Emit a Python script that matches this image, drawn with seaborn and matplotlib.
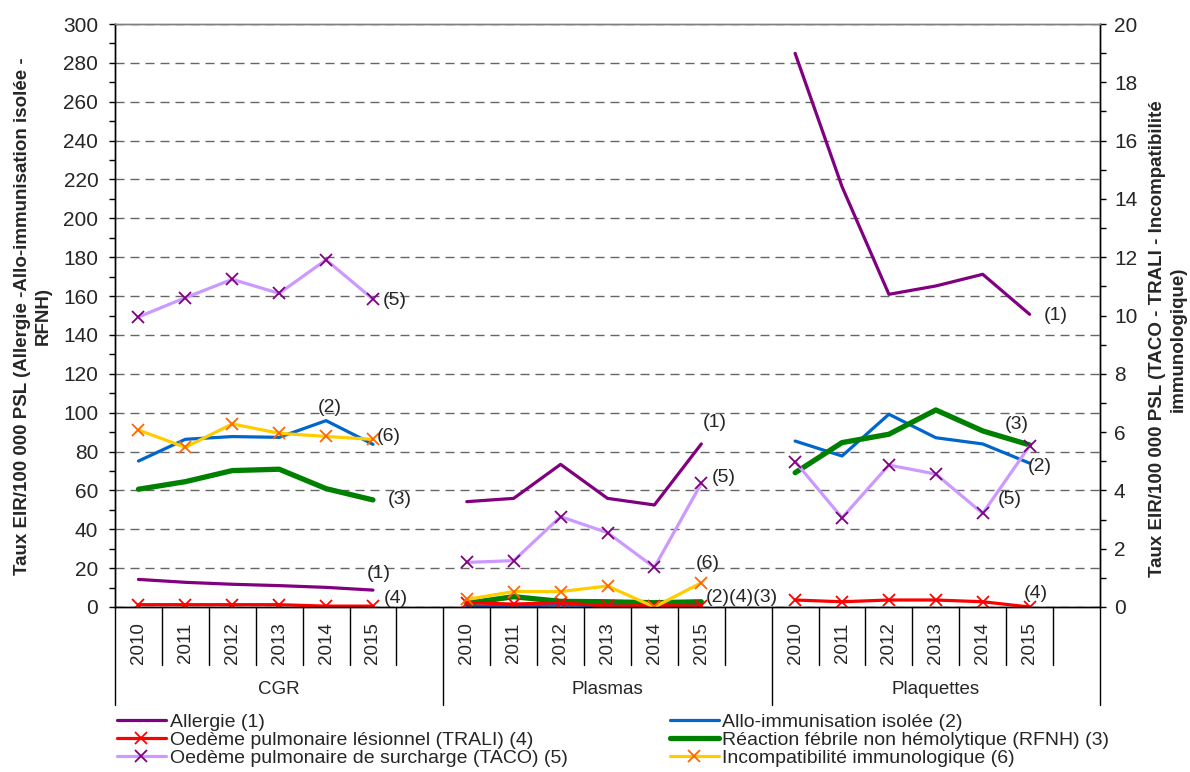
import matplotlib
matplotlib.use('Agg')
import matplotlib.pyplot as plt
import seaborn as sns
import pandas as pd
import numpy as np
from matplotlib.transforms import Bbox

groups = ['CGR', 'Plasmas', 'Plaquettes']
years = ['2010', '2011', '2012', '2013', '2014', '2015']

# left axis series (CGR, Plasmas, Plaquettes)
allergie = [14.2, 12.7, 11.7, 11.0, 10.1, 8.7,
            54.2, 55.9, 73.4, 55.9, 52.5, 83.9,
            284.9, 216.3, 160.9, 165.2, 171.2, 150.6]
allo = [75.1, 86.3, 87.7, 87.3, 95.9, 83.7,
        0.5, 0.6, 1.0, 0.8, 0.9, 1.0,
        85.4, 77.7, 99.2, 87.1, 83.9, 74.0]
rfnh = [60.6, 64.5, 70.2, 70.9, 60.9, 55.1,
        1.9, 5.3, 2.9, 2.7, 2.2, 2.7,
        69.1, 84.6, 88.9, 101.4, 90.6, 83.4]

# right axis series
trali = [0.08, 0.08, 0.08, 0.08, 0.03, 0.03,
         0.15, 0.10, 0.15, 0.03, 0.05, 0.03,
         0.24, 0.18, 0.24, 0.24, 0.18, 0.0]
taco = [9.95, 10.61, 11.24, 10.76, 11.91, 10.56,
        1.53, 1.59, 3.10, 2.55, 1.36, 4.24,
        4.99, 3.06, 4.87, 4.56, 3.21, 5.53]
incompat = [6.07, 5.48, 6.28, 5.96, 5.85, 5.75,
            0.26, 0.53, 0.53, 0.72, 0.0, 0.83,
            np.nan, np.nan, np.nan, np.nan, np.nan, np.nan]

SLOTS = 7  # 6 years + one empty slot per group


def frame(values):
    return pd.DataFrame({
        'pos': [g * SLOTS + i for g in range(len(groups)) for i in range(len(years))],
        'value': values,
        'group': [g for g in groups for _ in years],
    }).dropna()


sns.set_style('white')
plt.rcParams['font.family'] = ['Liberation Sans', 'DejaVu Sans']

fig = plt.figure(figsize=(11.9, 7.72), dpi=100)
ax = fig.add_axes([115 / 1190, 165 / 772, 985 / 1190, 583 / 772])
ax2 = ax.twinx()

common = dict(x='pos', y='value', units='group', estimator=None, sort=False)
handles = []

sns.lineplot(data=frame(allergie), ax=ax, color='#800080', lw=2.3, **common)
handles.append(ax.lines[-1])
sns.lineplot(data=frame(allo), ax=ax, color='#0066CC', lw=2.3, **common)
handles.append(ax.lines[-1])
sns.lineplot(data=frame(rfnh), ax=ax, color='#008000', lw=3.8, **common)
handles.append(ax.lines[-1])

sns.lineplot(data=frame(trali), ax=ax2, color='#FF0000', lw=2.3, marker='x',
             markersize=8, mec='#FF0000', mew=1.3, **common)
handles.append(ax2.lines[-1])
sns.lineplot(data=frame(taco), ax=ax2, color='#CC99FF', lw=2.3, marker='x',
             markersize=8, mec='#800080', mew=1.3, **common)
handles.append(ax2.lines[-1])
sns.lineplot(data=frame(incompat), ax=ax2, color='#FFCC00', lw=2.3, marker='x',
             markersize=8, mec='#FF6600', mew=1.3, **common)
handles.append(ax2.lines[-1])
h_allergie, h_allo, h_rfnh, h_trali, h_taco, h_incompat = handles

# axes
ax.set_xlim(-0.5, len(groups) * SLOTS - 0.5)
ax.set_ylim(0, 300)
ax2.set_ylim(0, 20)
ax.set_yticks(range(0, 301, 20))
ax.set_yticks(range(10, 300, 20), minor=True)
ax2.set_yticks(range(0, 21, 2))
ax2.set_yticks(range(1, 20, 2), minor=True)
ax.set_xlabel('')
ax.set_ylabel('')
ax2.set_ylabel('')

year_pos = [g * SLOTS + i for g in range(len(groups)) for i in range(len(years))]
ax.set_xticks(year_pos)
ax.set_xticklabels(years * len(groups), rotation=90, fontsize=13.5)
ax.tick_params(axis='x', length=0, pad=11)
ax.tick_params(axis='y', which='both', direction='out', left=True, length=4,
               width=1, labelsize=15, pad=8, color='black')
ax2.tick_params(axis='y', which='both', direction='out', right=True, length=4,
                width=1, labelsize=15, pad=6, color='black')
for a in (ax, ax2):
    for s in a.spines.values():
        s.set_linewidth(1)
    a.spines['top'].set_color('#808080')
    a.spines['left'].set_color('black')
    a.spines['right'].set_color('black')
    a.spines['bottom'].set_color('black')

ax.yaxis.grid(True, linestyle=(0, (6.5, 4.3)), color='#666666', lw=1)
ax.xaxis.grid(False)
ax2.grid(False)

# multi-level category separators
xt = ax.get_xaxis_transform()
for k in range(len(groups) * SLOTS + 1):
    depth = -0.168 if k % SLOTS == 0 else -0.0995
    ax.plot([k - 0.5, k - 0.5], [0, depth], transform=xt, color='black',
            lw=1, clip_on=False)
for g, name in enumerate(groups):
    ax.text(g * SLOTS + (SLOTS - 1) / 2, -0.142, name, transform=xt,
            ha='center', va='center', fontsize=13.5)


# series end labels, offset from the last point of a group
def label(a, values, text, dx, dy, g_idx):
    pos = g_idx * SLOTS + len(years) - 1
    v = values[g_idx * len(years) + len(years) - 1]
    a.annotate(text, xy=(pos, v), xytext=(dx, -dy), textcoords='offset pixels',
               ha='center', va='center', fontsize=14)


label(ax2, taco, '(5)', 22, 1, 0)
label(ax, allo, '(2)', -43, -37, 0)
label(ax2, incompat, '(6)', 16, -3, 0)
label(ax, rfnh, '(3)', 27, 0, 0)
label(ax, allergie, '(1)', 6, -17, 0)
label(ax2, trali, '(4)', 23, -8, 0)

label(ax, allergie, '(1)', 13, -21, 1)
label(ax2, taco, '(5)', 22, -6, 1)
label(ax2, incompat, '(6)', 6, -19, 1)
label(ax, allo, '(2)(4)(3)', 41, -8, 1)

label(ax, rfnh, '(3)', -13, -20, 2)
label(ax, allo, '(2)', 10, 3, 2)
label(ax2, taco, '(5)', -20, 54, 2)
label(ax2, trali, '(4)', 6, -14, 2)
label(ax, allergie, '(1)', 26, 1, 2)

# axis titles
fig.text(33 / 1190, 1 - 316 / 772,
         'Taux EIR/100 000 PSL (Allergie -Allo-immunisation isolée -\nRFNH)',
         rotation=90, ha='center', va='center', multialignment='center',
         fontsize=13.5, fontweight='bold', linespacing=1.3)
rt = fig.text(1168 / 1190, 1 - 339 / 772,
              'Taux EIR/100 000 PSL (TACO - TRALI - Incompatibilité\nimmunologique)',
              rotation=90, ha='center', va='center', multialignment='center',
              fontsize=13.5, fontweight='bold', linespacing=1.3)
rt.set_clip_box(Bbox.from_extents(0, 0, 1190, 772 - 100))
rt.set_clip_on(True)

# legend in two columns
leg_kw = dict(loc='upper left', frameon=False, fontsize=14, handlelength=2.5,
              handletextpad=0.2, labelspacing=0.02, borderaxespad=0, borderpad=0)
fig.legend([h_allergie, h_trali, h_taco],
           ['Allergie (1)', 'Oedème pulmonaire lésionnel (TRALI) (4)',
            'Oedème pulmonaire de surcharge (TACO) (5)'],
           bbox_to_anchor=(117 / 1190, 1 - 713 / 772), **leg_kw)
fig.legend([h_allo, h_rfnh, h_incompat],
           ['Allo-immunisation isolée (2)', 'Réaction fébrile non hémolytique (RFNH) (3)',
            'Incompatibilité immunologique (6)'],
           bbox_to_anchor=(670 / 1190, 1 - 713 / 772), **leg_kw)

fig.savefig('out.png', dpi=100)
